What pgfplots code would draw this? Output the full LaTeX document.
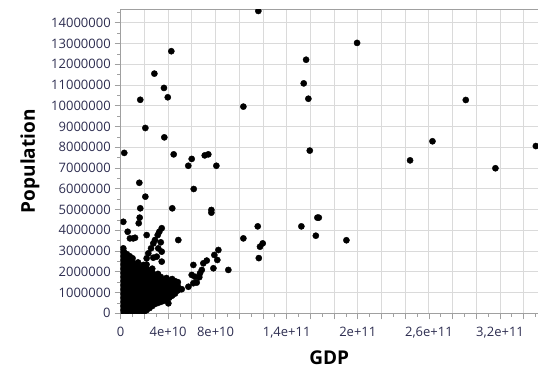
\documentclass[border=0pt]{standalone}
\usepackage{pgfplots}
\pgfplotsset{compat=1.18}
\usepackage{fontspec}
\setmainfont{Open Sans}
\definecolor{tickc}{RGB}{45,45,80}
\definecolor{gridc}{RGB}{218,218,218}
\definecolor{framec}{RGB}{160,160,160}
\pgfplotstableread{
gdp pop
116.1e9 14.57e6
42.7e9 12.63e6
28.4e9 11.55e6
36.5e9 10.86e6
39.7e9 10.41e6
16.5e9 10.29e6
20.8e9 8.93e6
36.8e9 8.48e6
3.0e9 7.73e6
44.7e9 7.66e6
59.9e9 7.44e6
57.0e9 7.11e6
70.9e9 7.61e6
73.9e9 7.66e6
80.7e9 7.11e6
103.5e9 9.96e6
15.7e9 6.29e6
199.4e9 13.03e6
156.4e9 12.22e6
154.4e9 11.08e6
158.3e9 10.34e6
159.5e9 7.84e6
291.1e9 10.28e6
263.0e9 8.29e6
244.1e9 7.37e6
316.1e9 6.99e6
350.2e9 8.06e6
152.4e9 4.19e6
165.9e9 4.61e6
167.1e9 4.61e6
164.6e9 3.74e6
190.4e9 3.52e6
61.6e9 5.99e6
20.8e9 5.62e6
16.5e9 5.06e6
43.5e9 5.06e6
76.5e9 4.98e6
76.5e9 4.85e6
16.0e9 4.61e6
15.2e9 4.34e6
2.2e9 4.41e6
48.6e9 3.53e6
115.6e9 4.19e6
103.5e9 3.61e6
119.8e9 3.37e6
117.5e9 3.21e6
116.5e9 2.66e6
90.8e9 2.09e6
78.2e9 2.17e6
82.4e9 3.05e6
79.0e9 2.81e6
81.5e9 2.57e6
72.6e9 2.54e6
69.7e9 2.41e6
68.4e9 2.09e6
66.9e9 1.93e6
66.3e9 1.74e6
61.3e9 2.33e6
59.9e9 1.85e6
62.7e9 1.76e6
61.3e9 1.45e6
64.1e9 1.48e6
57.1e9 1.28e6
51.5e9 1.16e6
40.2e9 0.48e6
5.9e9 3.93e6
7.8e9 3.61e6
10.6e9 3.61e6
12.1e9 3.64e6
2.2e9 3.13e6
21.9e9 3.77e6
34.6e9 4.10e6
32.6e9 3.93e6
31.2e9 3.77e6
28.9e9 3.53e6
27.5e9 3.37e6
25.6e9 3.13e6
23.3e9 2.89e6
21.9e9 2.65e6
19.1e9 2.33e6
17.1e9 2.09e6
14.9e9 1.85e6
31.7e9 3.13e6
34.6e9 2.97e6
34.6e9 2.49e6
30.4e9 2.73e6
27.5e9 2.68e6
33.8e9 3.42e6
0.4e9 0.05e6
0.4e9 0.25e6
0.4e9 0.45e6
0.4e9 0.65e6
0.4e9 0.85e6
0.4e9 1.05e6
0.4e9 1.25e6
0.4e9 1.45e6
0.4e9 1.65e6
0.4e9 1.85e6
0.4e9 2.05e6
0.4e9 2.25e6
0.4e9 2.45e6
0.4e9 2.65e6
0.4e9 2.85e6
0.4e9 3.05e6
2.8e9 0.15e6
2.8e9 0.35e6
2.8e9 0.55e6
2.8e9 0.75e6
2.8e9 0.95e6
2.8e9 1.15e6
2.8e9 1.35e6
2.8e9 1.55e6
2.8e9 1.75e6
2.8e9 1.95e6
2.8e9 2.15e6
2.8e9 2.35e6
2.8e9 2.55e6
2.8e9 2.75e6
2.8e9 2.95e6
5.2e9 0.05e6
5.2e9 0.25e6
5.2e9 0.45e6
5.2e9 0.65e6
5.2e9 0.85e6
5.2e9 1.05e6
5.2e9 1.25e6
5.2e9 1.45e6
5.2e9 1.65e6
5.2e9 1.85e6
5.2e9 2.05e6
5.2e9 2.25e6
5.2e9 2.45e6
5.2e9 2.65e6
5.2e9 2.85e6
7.6e9 0.15e6
7.6e9 0.35e6
7.6e9 0.55e6
7.6e9 0.75e6
7.6e9 0.95e6
7.6e9 1.15e6
7.6e9 1.35e6
7.6e9 1.55e6
7.6e9 1.75e6
7.6e9 1.95e6
7.6e9 2.15e6
7.6e9 2.35e6
7.6e9 2.55e6
7.6e9 2.75e6
10.0e9 0.05e6
10.0e9 0.25e6
10.0e9 0.45e6
10.0e9 0.65e6
10.0e9 0.85e6
10.0e9 1.05e6
10.0e9 1.25e6
10.0e9 1.45e6
10.0e9 1.65e6
10.0e9 1.85e6
10.0e9 2.05e6
10.0e9 2.25e6
10.0e9 2.45e6
10.0e9 2.65e6
12.2e9 0.15e6
12.2e9 0.35e6
12.2e9 0.55e6
12.2e9 0.75e6
12.2e9 0.95e6
12.2e9 1.15e6
12.2e9 1.35e6
12.2e9 1.55e6
12.2e9 1.75e6
12.2e9 1.95e6
12.2e9 2.15e6
12.2e9 2.35e6
14.6e9 0.05e6
14.6e9 0.25e6
14.6e9 0.45e6
14.6e9 0.65e6
14.6e9 0.85e6
14.6e9 1.05e6
14.6e9 1.25e6
14.6e9 1.45e6
14.6e9 1.65e6
14.6e9 1.85e6
14.6e9 2.05e6
14.6e9 2.25e6
14.6e9 2.45e6
17.0e9 0.15e6
17.0e9 0.35e6
17.0e9 0.55e6
17.0e9 0.75e6
17.0e9 0.95e6
17.0e9 1.15e6
17.0e9 1.35e6
17.0e9 1.55e6
17.0e9 1.75e6
17.0e9 1.95e6
17.0e9 2.15e6
19.4e9 0.05e6
19.4e9 0.25e6
19.4e9 0.45e6
19.4e9 0.65e6
19.4e9 0.85e6
19.4e9 1.05e6
19.4e9 1.25e6
19.4e9 1.45e6
19.4e9 1.65e6
19.4e9 1.85e6
19.4e9 2.05e6
19.4e9 2.25e6
21.8e9 0.15e6
21.8e9 0.35e6
21.8e9 0.55e6
21.8e9 0.75e6
21.8e9 0.95e6
21.8e9 1.15e6
21.8e9 1.35e6
21.8e9 1.55e6
21.8e9 1.75e6
21.8e9 1.95e6
21.8e9 2.15e6
21.8e9 2.35e6
24.2e9 0.25e6
24.2e9 0.45e6
24.2e9 0.65e6
24.2e9 0.85e6
24.2e9 1.05e6
24.2e9 1.25e6
24.2e9 1.45e6
24.2e9 1.65e6
24.2e9 1.85e6
24.2e9 2.05e6
26.6e9 0.35e6
26.6e9 0.55e6
26.6e9 0.75e6
26.6e9 0.95e6
26.6e9 1.15e6
26.6e9 1.35e6
26.6e9 1.55e6
26.6e9 1.75e6
26.6e9 1.95e6
26.6e9 2.15e6
29.0e9 0.45e6
29.0e9 0.65e6
29.0e9 0.85e6
29.0e9 1.05e6
29.0e9 1.25e6
29.0e9 1.45e6
29.0e9 1.65e6
29.0e9 1.85e6
31.4e9 0.50e6
31.4e9 0.70e6
31.4e9 0.90e6
31.4e9 1.10e6
31.4e9 1.30e6
31.4e9 1.50e6
31.4e9 1.70e6
31.4e9 1.90e6
33.8e9 0.55e6
33.8e9 0.75e6
33.8e9 0.95e6
33.8e9 1.15e6
33.8e9 1.35e6
33.8e9 1.55e6
33.8e9 1.75e6
36.2e9 0.60e6
36.2e9 0.80e6
36.2e9 1.00e6
36.2e9 1.20e6
36.2e9 1.40e6
36.2e9 1.60e6
38.6e9 0.70e6
38.6e9 0.90e6
38.6e9 1.10e6
38.6e9 1.30e6
38.6e9 1.50e6
38.6e9 1.70e6
41.0e9 0.75e6
41.0e9 0.95e6
41.0e9 1.15e6
41.0e9 1.35e6
41.0e9 1.55e6
43.4e9 0.85e6
43.4e9 1.05e6
43.4e9 1.25e6
43.4e9 1.45e6
43.4e9 1.65e6
45.8e9 0.95e6
45.8e9 1.15e6
45.8e9 1.35e6
45.8e9 1.55e6
48.2e9 1.10e6
48.2e9 1.30e6
48.2e9 1.50e6
}\datatable
\begin{document}
\begin{tikzpicture}
\useasboundingbox (0,0) rectangle (538bp,369bp);
\begin{axis}[
  at={(120.7bp,55.7bp)}, anchor=south west,
  scale only axis, width=420bp, height=304bp,
  xmin=0, xmax=3.543e11, ymin=0, ymax=14.65e6,
  scaled ticks=false,
  xtick={0,2e10,4e10,6e10,8e10,1e11,1.2e11,1.4e11,1.6e11,1.8e11,2e11,2.2e11,2.4e11,2.6e11,2.8e11,3e11,3.2e11,3.4e11},
  xticklabels={0,,4e+10,,8e+10,,,{1,4e+11},,,2e+11,,,{2,6e+11},,,{3,2e+11},},
  minor xtick={1e10,3e10,5e10,7e10,9e10,1.1e11,1.3e11,1.5e11,1.7e11,1.9e11,2.1e11,2.3e11,2.5e11,2.7e11,2.9e11,3.1e11,3.3e11,3.5e11},
  ytick={0,1e6,2e6,3e6,4e6,5e6,6e6,7e6,8e6,9e6,10e6,11e6,12e6,13e6,14e6},
  yticklabels={0,1000000,2000000,3000000,4000000,5000000,6000000,7000000,8000000,9000000,10000000,11000000,12000000,13000000,14000000},
  minor ytick={0.5e6,1.5e6,2.5e6,3.5e6,4.5e6,5.5e6,6.5e6,7.5e6,8.5e6,9.5e6,10.5e6,11.5e6,12.5e6,13.5e6,14.5e6},
  grid=major,
  major grid style={draw=gridc, line width=0.9bp},
  axis line style={draw=framec, line width=0.9bp},
  tick align=outside,
  xtick pos=bottom, ytick pos=left,
  major tick length=6bp, minor tick length=3.5bp,
  every tick/.style={draw=framec, line width=0.8bp},
  tick label style={text=tickc, font=\fontsize{13bp}{15bp}\selectfont},
  xticklabel style={yshift=-4bp},
  yticklabel style={xshift=-0.5bp},
  xlabel={GDP}, ylabel={Population},
  xlabel style={at={(axis description cs:0.4964,-0.170)}, anchor=base, font=\bfseries\fontsize{19bp}{22bp}\selectfont},
  ylabel style={at={(axis description cs:-0.216,0.5)}, anchor=center, font=\bfseries\fontsize{19bp}{22bp}\selectfont},
  clip marker paths=true,
]
\addplot[only marks, mark=*, mark size=3.1bp, draw=black, fill=black] table[x=gdp, y=pop] {\datatable};
\end{axis}
\end{tikzpicture}
\end{document}
